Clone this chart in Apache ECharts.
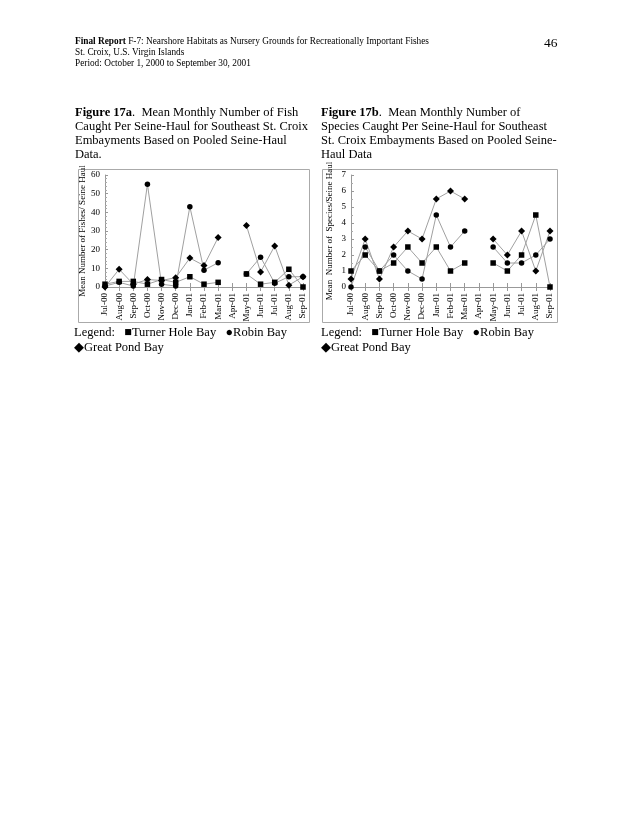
<!DOCTYPE html>
<html><head><meta charset="utf-8">
<script src="https://cdn.jsdelivr.net/npm/echarts@6/dist/echarts.min.js"></script>
<style>html,body{margin:0;padding:0;background:#fff}#c{width:630px;height:815px}</style>
</head><body><div id="c"></div>
<script>
const months = ['Jul-00','Aug-00','Sep-00','Oct-00','Nov-00','Dec-00','Jan-01','Feb-01','Mar-01','Apr-01','May-01','Jun-01','Jul-01','Aug-01','Sep-01'];
// Figure 17a: fish per seine-haul
const fishTurner = [1.5, 3, 3, 1.5, 4, 2.5, 5.5, 1.5, 2.5, null, 7, 1.5, 2.5, 9.5, 0];
const fishRobin  = [0.5, 2.5, 0.5, 55, 1.5, 0.5, 43, 9, 13, null, 7, 16, 2, 5.5, 5.5];
const fishGreat  = [0, 9.5, 1.5, 4, 3.5, 5, 15.5, 11.5, 26.5, null, 33, 8, 22, 1, 5.5];
const fishTicks = [0, 10, 20, 30, 40, 50, 60];
// Figure 17b: species per seine-haul
const spTurner = [1, 2, 1, 1.5, 2.5, 1.5, 2.5, 1, 1.5, null, 1.5, 1, 2, 4.5, 0];
const spRobin  = [0, 2.5, 1, 2, 1, 0.5, 4.5, 2.5, 3.5, null, 2.5, 1.5, 1.5, 2, 3];
const spGreat  = [0.5, 3, 0.5, 2.5, 3.5, 3, 5.5, 6, 5.5, null, 3, 2, 3.5, 1, 3.5];
const spTicks = [0, 1, 2, 3, 4, 5, 6, 7];

const F = 'Liberation Serif, Times New Roman, serif';
const chart = echarts.init(document.getElementById('c'), null, {renderer:'canvas'});

function ser(name, data, sym, xi, yi) {
  return {name, type:'line', data, xAxisIndex:xi, yAxisIndex:yi, symbol:sym,
    symbolSize: sym==='rect'?5.5:(sym==='circle'?5.5:7), connectNulls:false,
    lineStyle:{color:'#a0a0a0', width:1}, itemStyle:{color:'#000'}, showAllSymbol:true, animation:false};
}
function xax(gi, ticksInside, showLabel) {
  return {type:'category', gridIndex:gi, data:months, boundaryGap:false, position:'bottom',
    axisLine:{show:showLabel, lineStyle:{color:'#999'}},
    axisTick:{show:true, inside:ticksInside, length:4, lineStyle:{color:'#999'}},
    axisLabel:{show:showLabel, rotate:90, fontFamily:F, fontSize:9, color:'#000', margin:6, interval:0}};
}
function yax(gi, max, interval, name, minorSplit, ticks) {
  return {type:'value', gridIndex:gi, min:0, max, interval, name,
    nameLocation:'middle', nameGap:17, nameTextStyle:{fontFamily:F, fontSize:9, color:'#000'},
    axisLine:{show:true, lineStyle:{color:'#999'}},
    axisTick:{show:true, inside:true, length:3, lineStyle:{color:'#999'}},
    minorTick:{show:true, splitNumber:minorSplit, length:2, lineStyle:{color:'#aaa'}},
    splitLine:{show:false},
    axisLabel:{fontFamily:F, fontSize:9, color:'#000', margin:5,
      formatter: v => ticks.includes(v) ? String(v) : ''}};
}

const T = (x, y, text, size, extra) => Object.assign({type:'text', left:x, top:y,
  style:{text, fontFamily:F, fontSize:size, fill:'#000'}}, extra||{});
const R = (x, y, w, h) => ({type:'rect', shape:{x, y, width:w, height:h},
  style:{fill:'none', stroke:'#aaa', lineWidth:1}, silent:true});

chart.setOption({
  animation:false,
  grid:[{left:105, top:175, width:198, height:112},
        {left:351, top:175, width:199, height:112}],
  xAxis:[xax(0,false,true), xax(0,true,false), xax(1,false,true), xax(1,true,false)],
  yAxis:[yax(0,60,10,'Mean Number of Fishes/ Seine Haul',5,fishTicks),
         yax(1,7,1,'Mean  Number of  Species/Seine Haul',2,spTicks)],
  series:[
    ser('Turner Hole Bay', fishTurner, 'rect', 0, 0),
    ser('Robin Bay', fishRobin, 'circle', 0, 0),
    ser('Great Pond Bay', fishGreat, 'diamond', 0, 0),
    ser('Turner Hole Bay', spTurner, 'rect', 2, 1),
    ser('Robin Bay', spRobin, 'circle', 2, 1),
    ser('Great Pond Bay', spGreat, 'diamond', 2, 1)
  ],
  graphic:[
    R(78.5, 169.5, 231, 153), R(322.5, 169.5, 235, 153),
    {type:'text', left:75, top:37, style:{rich:{b:{fontFamily:F, fontSize:9.3, fontWeight:'bold', fill:'#000'}, n:{fontFamily:F, fontSize:9.3, fill:'#000'}},
      text:'{b|Final Report} {n|F-7: Nearshore Habitats as Nursery Grounds for Recreationally Important Fishes}', fontFamily:F, fontSize:9.3}},
    T(75, 48, 'St. Croix, U.S. Virgin Islands', 9.3),
    T(75, 59, 'Period: October 1, 2000 to September 30, 2001', 9.3),
    T(544, 36, '46', 13.5),
    {type:'text', left:75, top:106, style:{rich:{b:{fontFamily:F, fontSize:12.5, fontWeight:'bold', fill:'#000'}, n:{fontFamily:F, fontSize:12.5, fill:'#000'}},
      text:'{b|Figure 17a}{n|.  Mean Monthly Number of Fish}', fontFamily:F, fontSize:12.5}},
    T(75, 120, 'Caught Per Seine-Haul for Southeast St. Croix', 12.5),
    T(75, 134, 'Embayments Based on Pooled Seine-Haul', 12.5),
    T(75, 148, 'Data.', 12.5),
    {type:'text', left:321, top:106, style:{rich:{b:{fontFamily:F, fontSize:12.5, fontWeight:'bold', fill:'#000'}, n:{fontFamily:F, fontSize:12.5, fill:'#000'}},
      text:'{b|Figure 17b}{n|.  Mean Monthly Number of}', fontFamily:F, fontSize:12.5}},
    T(321, 120, 'Species Caught Per Seine-Haul for Southeast', 12.5),
    T(321, 134, 'St. Croix Embayments Based on Pooled Seine-', 12.5),
    T(321, 148, 'Haul Data', 12.5),
    T(74, 326, 'Legend:   \u25A0Turner Hole Bay   \u25CFRobin Bay', 12.5),
    T(74, 341, '\u25C6Great Pond Bay', 12.5),
    T(321, 326, 'Legend:   \u25A0Turner Hole Bay   \u25CFRobin Bay', 12.5),
    T(321, 341, '\u25C6Great Pond Bay', 12.5)
  ]
});
</script></body></html>
